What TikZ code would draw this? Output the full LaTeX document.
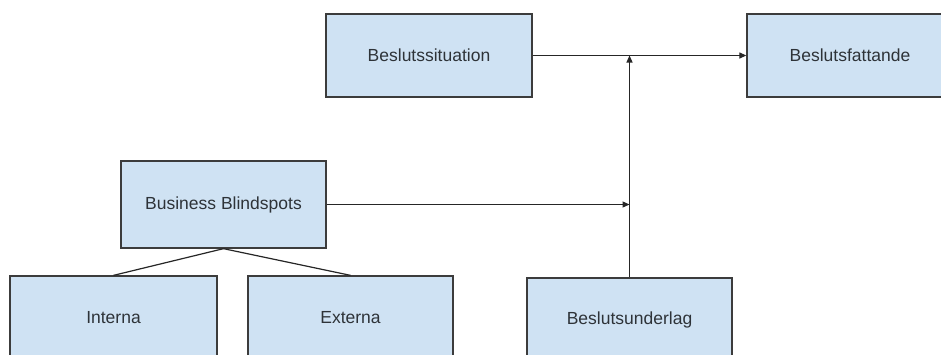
\documentclass[tikz,border=0pt]{standalone}
\usepackage{fontspec}
\setmainfont{Liberation Sans}
\usetikzlibrary{arrows.meta,calc}
\definecolor{boxfill}{HTML}{CFE2F3}
\definecolor{boxline}{HTML}{3C3C3C}
\definecolor{txt}{HTML}{2E3338}
\begin{document}
\begin{tikzpicture}[x=1pt,y=-1pt,
  blk/.style={draw=boxline,line width=1.3pt,fill=boxfill,minimum width=206pt,minimum height=83pt,inner sep=0pt,text=txt,font=\fontsize{17.5}{20}\selectfont},
  conn/.style={draw=black!85,line width=1.2pt},
  arr/.style={conn,-{Triangle[length=7pt,width=6pt]}}]
\useasboundingbox (0,0) rectangle (941,354);
\clip (0,0) rectangle (941,354);
\fill[white] (0,0) rectangle (941,354);
\node[blk] (sit) at (429,55.5) {Beslutssituation};
\node[blk] (fatt) at (850,55.5) {Beslutsfattande};
\node[blk,minimum width=205pt,minimum height=87pt] (bb) at (223.5,204.5) {Business Blindspots};
\node[blk,minimum width=207pt] (int) at (113.5,317.5) {Interna};
\node[blk,minimum width=205pt] (ext) at (350.5,317.5) {Externa};
\node[blk,minimum width=205pt] (und) at (629.5,319.5) {Beslutsunderlag};
\coordinate (jt) at (und.north |- sit.east);
\coordinate (jb) at (und.north |- bb.east);
\draw[arr] (sit.east) -- (fatt.west);
\draw[arr] (und.north) -- (jt);
\draw[arr] (bb.east) -- (jb);
\draw[conn] (bb.south) -- (int.north);
\draw[conn] (bb.south) -- (ext.north);
\end{tikzpicture}
\end{document}
